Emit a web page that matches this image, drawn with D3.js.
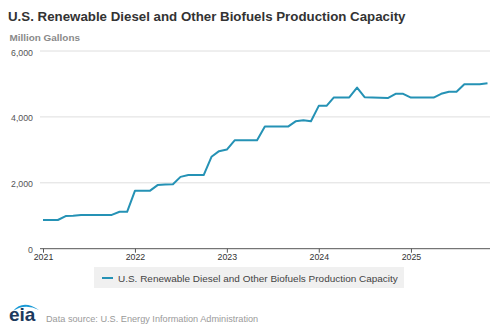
<!DOCTYPE html>
<html>
<head>
<meta charset="utf-8">
<script src="https://cdn.jsdelivr.net/npm/d3@7"></script>
<style>
  body { margin: 0; background: #fff; }
  svg { display: block; font-family: "Liberation Sans", Arial, sans-serif; }
</style>
</head>
<body>
<svg id="chart" width="500" height="333"></svg>
<script>
/** Monthly data, Jan 2021 - Nov 2025 (million gallons) **/
var months = d3.timeMonths(new Date(2021, 0, 1), new Date(2025, 11, 1));
var capacity = [
    871, 871, 871, 990, 1000, 1025, 1025, 1025, 1025, 1025, 1120, 1120,
    1755, 1755, 1755, 1930, 1945, 1955, 2180, 2235, 2235, 2235, 2790, 2960,
    3010, 3290, 3290, 3290, 3290, 3705, 3705, 3705, 3705, 3865, 3900, 3870,
    4335, 4335, 4590, 4590, 4590, 4890, 4600, 4590, 4580, 4570, 4700, 4700,
    4585, 4585, 4585, 4585, 4700, 4765, 4765, 4990, 4990, 4990, 5020
];
var yTicks = [0, 2000, 4000, 6000];
var xTickYears = [2021, 2022, 2023, 2024, 2025];
var seriesName = "U.S. Renewable Diesel and Other Biofuels Production Capacity";

var data = months.map(function (d, i) { return {date: d, value: capacity[i]}; });

var svg = d3.select("#chart");
var plotLeft = 40, plotRight = 490;

/** shrink/grow a text so it spans the width seen in the reference **/
function fitWidth(sel, target) {
    var w = sel.node().getComputedTextLength();
    var fs = parseFloat(sel.style("font-size"));
    sel.style("font-size", (fs * target / w).toFixed(2) + "px");
}

/** Scales **/
var xScale = d3.scaleTime()
    .domain([new Date(2021, 0, 1), new Date(2025, 10, 1)])
    .range([43, 487.5]);
var yScale = d3.scaleLinear()
    .domain([0, 6000])
    .range([248.7, 51]);

/** Title and unit label **/
var title = svg.append("text")
    .text("U.S. Renewable Diesel and Other Biofuels Production Capacity")
    .attr("x", 8).attr("y", 21)
    .style("font-size", "14px")
    .style("font-weight", "bold")
    .style("fill", "#333");
fitWidth(title, 398);
var unit = svg.append("text")
    .text("Million Gallons")
    .attr("x", 9.5).attr("y", 40.5)
    .style("font-size", "10px")
    .style("font-weight", "bold")
    .style("fill", "#8a8a8a");
fitWidth(unit, 70.5);

/** Gridlines and y labels **/
var grid = svg.append("g");
grid.selectAll("line")
    .data(yTicks.filter(function (d) { return d > 0; }))
    .enter().append("line")
    .attr("x1", plotLeft).attr("x2", plotRight)
    .attr("y1", function (d) { return yScale(d); })
    .attr("y2", function (d) { return yScale(d); })
    .attr("stroke", "#dedede")
    .attr("stroke-width", 1);
var yLabels = grid.selectAll("text")
    .data(yTicks)
    .enter().append("text")
    .text(function (d) { return d3.format(",")(d); })
    .attr("x", 33)
    .attr("y", function (d) { return yScale(d) + 1.5; })
    .attr("dy", "0.35em")
    .style("text-anchor", "end")
    .style("font-size", "10px")
    .style("fill", "#555");
fitWidth(d3.select(yLabels.nodes()[3]), 22);
var tickFont = d3.select(yLabels.nodes()[3]).style("font-size");
yLabels.style("font-size", tickFont);

/** X axis **/
var xAxis = d3.axisBottom(xScale)
    .tickValues(xTickYears.map(function (y) { return new Date(y, 0, 1); }))
    .tickFormat(d3.timeFormat("%Y"))
    .tickSize(4)
    .tickSizeOuter(0);
var gx = svg.append("g")
    .attr("transform", "translate(0," + yScale(0) + ")")
    .call(xAxis);
gx.select(".domain").remove();
gx.append("line")
    .attr("x1", plotLeft).attr("x2", plotRight)
    .attr("stroke", "#555").attr("stroke-width", 1);
gx.selectAll(".tick line").attr("stroke", "#555");
gx.selectAll(".tick text")
    .attr("y", 5)
    .style("font-size", tickFont)
    .style("font-family", "Liberation Sans, Arial, sans-serif")
    .style("fill", "#333");

/** Line **/
var valueLine = d3.line()
    .x(function (d) { return xScale(d.date); })
    .y(function (d) { return yScale(d.value); });
svg.append("path")
    .datum(data)
    .attr("fill", "none")
    .attr("stroke", "#2592b5")
    .attr("stroke-width", 2)
    .attr("stroke-linejoin", "round")
    .attr("d", valueLine);

/** Legend **/
var legend = svg.append("g");
legend.append("rect")
    .attr("x", 94).attr("y", 267)
    .attr("width", 310).attr("height", 21)
    .attr("fill", "#f0f0f0");
legend.append("line")
    .attr("x1", 102).attr("x2", 113)
    .attr("y1", 278).attr("y2", 278)
    .attr("stroke", "#2592b5").attr("stroke-width", 2);
var legendText = legend.append("text")
    .text(seriesName)
    .attr("x", 118).attr("y", 281.5)
    .style("font-size", "10px")
    .style("fill", "#444");
fitWidth(legendText, 280);

/** Footer: eia logo + source **/
var logo = svg.append("g");
logo.append("path")
    .attr("d", "M13,311 Q23,299 39,310 Q25,303 13,311 Z")
    .attr("fill", "#1a9ad6");
logo.append("text")
    .text("eia")
    .attr("x", 9).attr("y", 321)
    .style("font-size", "19px")
    .style("font-weight", "bold")
    .style("fill", "#1c3a5e");
var source = svg.append("text")
    .text("Data source: U.S. Energy Information Administration")
    .attr("x", 46).attr("y", 322)
    .style("font-size", "9px")
    .style("fill", "#9a9a9a");
fitWidth(source, 212.5);
</script>
</body>
</html>
